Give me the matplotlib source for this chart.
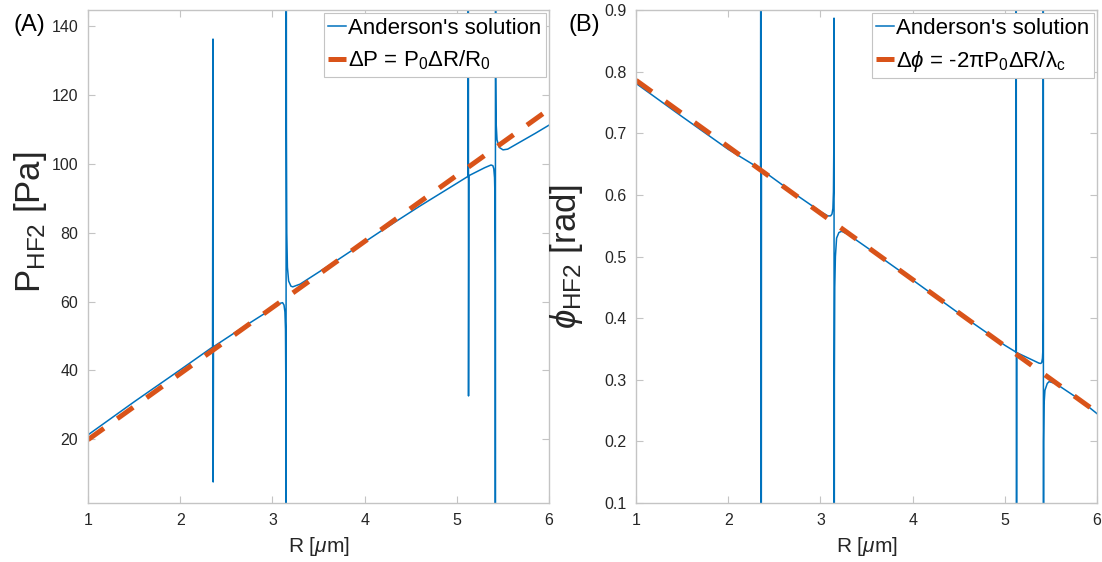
import matplotlib
matplotlib.use('Agg')
import matplotlib.pyplot as plt

plt.rcParams['font.family'] = ['Liberation Sans', 'DejaVu Sans']
plt.rcParams['mathtext.fontset'] = 'custom'
plt.rcParams['mathtext.rm'] = 'Liberation Sans'
plt.rcParams['mathtext.it'] = 'Liberation Sans:italic'
plt.rcParams['mathtext.fallback'] = 'cm'

# panel A: pressure of the HF2 mode vs radius
r_a = [1.00, 1.50, 2.00, 2.35, 2.355, 2.357, 2.36, 2.70, 3.00, 3.08, 3.11,
       3.125, 3.135, 3.141, 3.145, 3.147, 3.149, 3.151, 3.155, 3.162, 3.175,
       3.20, 3.22, 3.30, 3.70, 4.20, 4.60, 5.00, 5.12, 5.123, 5.126, 5.13,
       5.30, 5.37, 5.39, 5.40, 5.408, 5.413, 5.416, 5.417, 5.419, 5.421,
       5.425, 5.435, 5.46, 5.50, 5.55, 5.70, 5.85, 6.00]
p_a = [21.3, 30.9, 40.2, 46.8, 136.3, 7.6, 46.9, 52.9, 58.0, 59.5, 59.7,
       59.0, 57.0, 52.0, 35.0, -20.0, 250.0, 110.0, 80.0, 70.0, 66.0,
       64.5, 64.3, 65.1, 72.0, 80.9, 87.8, 94.4, 96.4, 300.0, 32.6, 96.6,
       98.9, 99.7, 99.5, 98.6, 96.0, 90.0, 70.0, -30.0, 300.0, 125.0,
       112.0, 107.0, 104.8, 104.1, 104.3, 106.6, 108.9, 111.3]
r_fit = [1.0, 6.0]
p_fit = [19.9, 115.9]

# panel B: phase of the HF2 mode vs radius
r_b = [1.00, 1.50, 2.00, 2.35, 2.355, 2.357, 2.36, 2.70, 3.00, 3.08, 3.11,
       3.125, 3.135, 3.141, 3.145, 3.147, 3.149, 3.151, 3.155, 3.162, 3.175,
       3.20, 3.23, 3.30, 3.52, 4.00, 4.50, 5.00, 5.12, 5.123, 5.126, 5.13,
       5.30, 5.37, 5.39, 5.40, 5.408, 5.413, 5.416, 5.417, 5.419, 5.421,
       5.425, 5.435, 5.46, 5.48, 5.55, 5.80, 6.00]
phi_b = [0.781, 0.727, 0.674, 0.642, 1.5, -0.5, 0.641, 0.604, 0.573, 0.566, 0.566,
         0.569, 0.578, 0.605, 0.680, 0.887, -0.5, 0.30, 0.45, 0.50, 0.530,
         0.539, 0.541, 0.536, 0.513, 0.462, 0.408, 0.356, 0.345, 1.5, -0.5, 0.344,
         0.332, 0.327, 0.3265, 0.328, 0.335, 0.350, 0.400, 1.5, -0.5, 0.20,
         0.26, 0.283, 0.294, 0.297, 0.294, 0.269, 0.245]
phi_fit = [0.786, 0.247]

xticks = [1, 2, 3, 4, 5, 6]
yticks_a = [20, 40, 60, 80, 100, 120, 140]
yticks_b = [0.1, 0.2, 0.3, 0.4, 0.5, 0.6, 0.7, 0.8, 0.9]

BLUE = '#0072BD'
ORANGE = '#D95319'
GRAY = '#c4c4c4'
TXT = '#262626'


def style_axes(ax):
    for s in ax.spines.values():
        s.set_color(GRAY)
        s.set_linewidth(1.0)
    ax.tick_params(direction='in', length=5, width=0.8, color=GRAY,
                   labelcolor=TXT, labelsize=11.5, pad=7,
                   top=True, right=True)
    ax.set_xlim(1, 6)
    ax.set_xticks(xticks)
    ax.set_xlabel(r'R [$\mu$m]', fontsize=15, color=TXT, labelpad=5)


def draw(ax, r, y, rf, yf, fit_label):
    ax.plot(r, y, color=BLUE, lw=1.1, label="Anderson's solution")
    ax.plot(rf, yf, color=ORANGE, lw=3.6, dashes=(3.9, 3.3), label=fit_label)
    leg = ax.legend(loc='upper right', fontsize=16, handlelength=0.8,
                    handletextpad=0.1, borderpad=0.2, labelspacing=0.45,
                    borderaxespad=0.15, fancybox=False, framealpha=1)
    leg.get_frame().set_edgecolor(GRAY)
    leg.get_frame().set_linewidth(0.8)


fig = plt.figure(figsize=(11.02, 5.62), dpi=100)
ax1 = fig.add_axes([0.0799, 0.105, 0.4184, 0.877])
ax2 = fig.add_axes([0.5772, 0.105, 0.4183, 0.877])

draw(ax1, r_a, p_a, r_fit, p_fit, r'ΔP = P$_{0}$ΔR/R$_{0}$')
style_axes(ax1)
ax1.set_ylim(1.5, 144.7)
ax1.set_yticks(yticks_a)
ax1.set_ylabel(r'P$_{\mathregular{HF2}}$ [Pa]', fontsize=25, color=TXT)
ax1.yaxis.set_label_coords(-0.085, 0.57)

draw(ax2, r_b, phi_b, r_fit, phi_fit,
     r'Δ$\phi$ = -2πP$_{0}$ΔR/λ$_{\mathregular{c}}$')
style_axes(ax2)
ax2.set_ylim(0.1, 0.9)
ax2.set_yticks(yticks_b)
ax2.set_yticklabels(['%.1f' % t for t in yticks_b])
ax2.set_ylabel(r'$\phi_{\mathregular{HF2}}$ [rad]', fontsize=25, color=TXT)
ax2.yaxis.set_label_coords(-0.11, 0.5)

fig.text(0.012, 0.945, '(A)', fontsize=17, color='black')
fig.text(0.516, 0.945, '(B)', fontsize=17, color='black')

fig.savefig('out.png', dpi=100)
